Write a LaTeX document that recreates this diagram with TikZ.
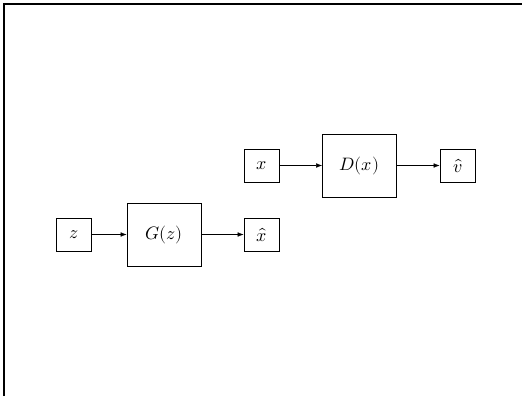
\documentclass[tikz,border=0pt]{standalone}
\usepackage{unicode-math}
\usetikzlibrary{arrows.meta}

\tikzset{
  var/.style={draw,line width=0.7pt,minimum width=35pt,minimum height=33pt,inner sep=0pt},
  net/.style={draw,line width=0.7pt,minimum width=74pt,minimum height=63pt,inner sep=0pt},
  flow/.style={-{Latex[length=6pt,width=4.5pt]},line width=0.4pt}
}

\begin{document}
\begin{tikzpicture}[x=1pt,y=-1pt,font=\fontsize{18}{20}\selectfont]
  \useasboundingbox (0,0) rectangle (524,396);
  % frame edges
  \draw[line width=1.1pt] (4,396) -- (4,4) -- (522,4);
  % generator row
  \node[var] (z) at (74,234.5) {$z$};
  \node[net] (gen) at (164,234.5) {$G(z)$};
  \node[var] (xfake) at (261.5,234.5) {$\hat{x}$};
  % discriminator row
  \node[var] (xreal) at (261.5,165.5) {$x$};
  \node[net] (disc) at (359.5,165.5) {$D(x)$};
  \node[var] (vout) at (457.5,165.5) {$\hat{v}$};
  \draw[flow] (z) -- (gen);
  \draw[flow] (gen) -- (xfake);
  \draw[flow] (xreal) -- (disc);
  \draw[flow] (disc) -- (vout);
\end{tikzpicture}
\end{document}
